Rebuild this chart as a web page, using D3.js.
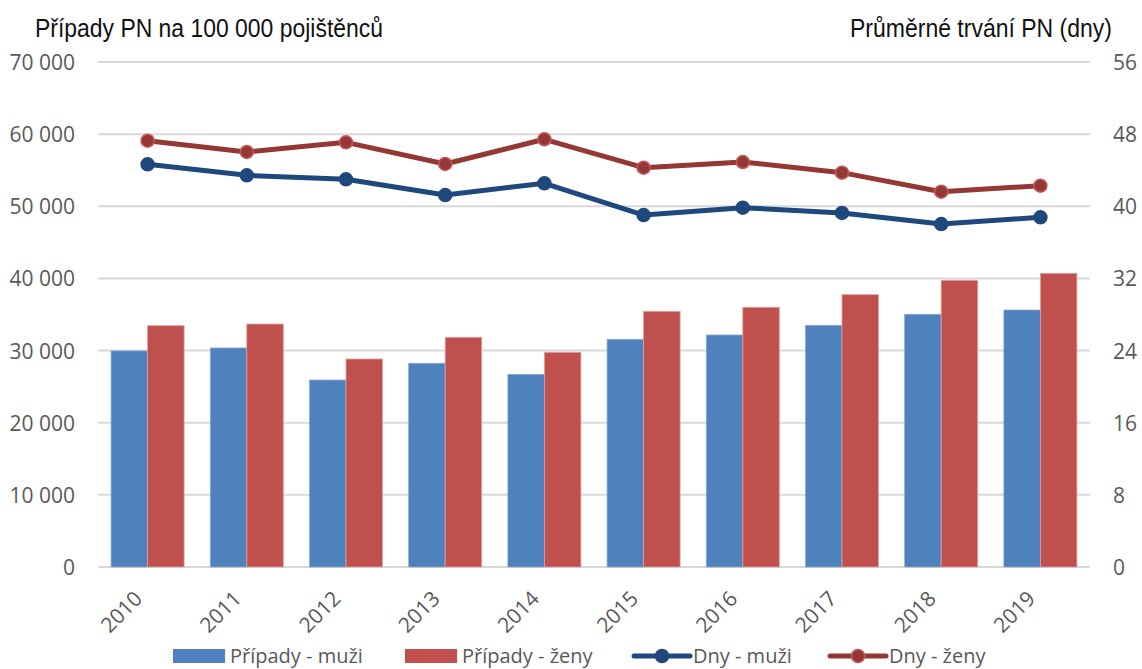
<!DOCTYPE html>
<html>
<head>
<meta charset="utf-8">
<script src="https://cdn.jsdelivr.net/npm/d3@7"></script>
<style>
    body { margin: 0; background: #fff; }
    svg { display: block; }
    .tick-label { font-family: "Open Sans", sans-serif; font-size: 21px; fill: #595959; }
    .axis-title { font-family: "Liberation Sans", Arial, sans-serif; font-size: 25px; fill: #111; }
    .legend-text { font-family: "Open Sans", sans-serif; font-size: 20px; fill: #595959; }
</style>
</head>
<body>
<svg id="chart"></svg>
<script>
const years = ['2010', '2011', '2012', '2013', '2014', '2015', '2016', '2017', '2018', '2019'];
const pripadyMuzi = [29950, 30360, 25920, 28240, 26710, 31560, 32160, 33500, 35030, 35620];
const pripadyZeny = [33450, 33680, 28830, 31840, 29760, 35440, 36000, 37750, 39740, 40710];
const dnyMuzi = [44.65, 43.43, 42.99, 41.25, 42.55, 39.03, 39.85, 39.26, 38.03, 38.78];
const dnyZeny = [47.27, 46.02, 47.09, 44.69, 47.43, 44.28, 44.91, 43.73, 41.62, 42.28];
const leftTicks = [0, 10000, 20000, 30000, 40000, 50000, 60000, 70000];
const rightTicks = [0, 8, 16, 24, 32, 40, 48, 56];
const seriesNames = ['Případy - muži', 'Případy - ženy', 'Dny - muži', 'Dny - ženy'];

const colors = {
    barM: '#4f81bd', barZ: '#c0504d',
    lineM: '#1f497d', lineZ: '#953735', markZ: '#c45a57'
};

const svg = d3.select('#chart')
    .attr('width', 1142)
    .attr('height', 669);

const margins = {top: 62, right: 52, bottom: 102, left: 98};
const width = 1142 - margins.left - margins.right;
const height = 669 - margins.top - margins.bottom;

const x = d3.scaleBand().domain(years).range([0, width])
    .paddingInner(0.264).paddingOuter(0.132);
const xOuter = d3.scaleBand().domain(years).range([0, width]);
const yLeft = d3.scaleLinear().domain([0, 70000]).range([height, 0]);
const yRight = d3.scaleLinear().domain([0, 56]).range([height, 0]);

const fmt = d3.formatLocale({decimal: ',', thousands: ' ', grouping: [3], currency: ['', '']}).format(',d');

const g = svg.append('g')
    .attr('transform', `translate(${margins.left}, ${margins.top})`);

// gridlines
g.append('g').selectAll('line').data(leftTicks).join('line')
    .attr('x1', 0).attr('x2', width)
    .attr('y1', d => yLeft(d)).attr('y2', d => yLeft(d))
    .attr('stroke', '#d9d9d9').attr('stroke-width', 2);

// left axis labels
g.append('g').selectAll('text').data(leftTicks).join('text')
    .attr('class', 'tick-label')
    .attr('x', -23).attr('y', d => yLeft(d))
    .attr('text-anchor', 'end').attr('dominant-baseline', 'central')
    .text(d => fmt(d));

// right axis labels
g.append('g').selectAll('text').data(rightTicks).join('text')
    .attr('class', 'tick-label')
    .attr('x', width + 23).attr('y', d => yRight(d))
    .attr('text-anchor', 'start').attr('dominant-baseline', 'central')
    .text(d => d);

// bars
const barW = x.bandwidth() / 2;
const barData = years.map((y, i) => ({year: y, m: pripadyMuzi[i], z: pripadyZeny[i]}));
const groups = g.append('g').selectAll('g').data(barData).join('g')
    .attr('transform', d => `translate(${x(d.year)}, 0)`);
groups.append('rect')
    .attr('x', 0).attr('width', barW)
    .attr('y', d => yLeft(d.m)).attr('height', d => height - yLeft(d.m))
    .attr('fill', colors.barM).attr('stroke', '#8aa9d3').attr('stroke-width', 0.8);
groups.append('rect')
    .attr('x', barW).attr('width', barW)
    .attr('y', d => yLeft(d.z)).attr('height', d => height - yLeft(d.z))
    .attr('fill', colors.barZ).attr('stroke', '#e0a09e').attr('stroke-width', 0.8);

// x labels
g.append('g').selectAll('text').data(years).join('text')
    .attr('class', 'tick-label')
    .attr('text-anchor', 'end')
    .attr('transform', d => `translate(${xOuter(d) + xOuter.bandwidth() / 2 - 4}, ${height + 33}) rotate(-45)`)
    .text(d => d);

// lines
const cx = d => xOuter(d) + xOuter.bandwidth() / 2;
const line = d3.line().x(d => cx(d.year)).y(d => yRight(d.v));
const lineSeries = [
    {key: 'm', values: years.map((y, i) => ({year: y, v: dnyMuzi[i]})), stroke: colors.lineM, mark: colors.lineM},
    {key: 'z', values: years.map((y, i) => ({year: y, v: dnyZeny[i]})), stroke: colors.lineZ, mark: colors.markZ}
];
lineSeries.forEach(s => {
    g.append('path').datum(s.values)
        .attr('d', line)
        .attr('fill', 'none')
        .attr('stroke', s.stroke)
        .attr('stroke-width', 5)
        .attr('stroke-linejoin', 'round');
    g.append('g').selectAll('circle').data(s.values).join('circle')
        .attr('cx', d => cx(d.year)).attr('cy', d => yRight(d.v))
        .attr('r', 6.5)
        .attr('fill', s.stroke)
        .attr('stroke', s.mark).attr('stroke-width', 1.5);
});

// axis titles (condensed like the original)
svg.append('text').attr('class', 'axis-title')
    .attr('x', 35).attr('y', 37)
    .attr('textLength', 348).attr('lengthAdjust', 'spacingAndGlyphs')
    .text('Případy PN na 100 000 pojištěnců');
svg.append('text').attr('class', 'axis-title')
    .attr('x', 850).attr('y', 37)
    .attr('textLength', 262).attr('lengthAdjust', 'spacingAndGlyphs')
    .text('Průměrné trvání PN (dny)');

// legend
const legend = svg.append('g').attr('transform', 'translate(0, 655)');
const legendItems = [
    {name: seriesNames[0], type: 'bar', color: colors.barM, x: 173},
    {name: seriesNames[1], type: 'bar', color: colors.barZ, x: 405},
    {name: seriesNames[2], type: 'line', color: colors.lineM, mark: colors.lineM, x: 634},
    {name: seriesNames[3], type: 'line', color: colors.lineZ, mark: colors.markZ, x: 830}
];
legendItems.forEach(it => {
    if (it.type === 'bar') {
        legend.append('rect').attr('x', it.x).attr('y', -6).attr('width', 52).attr('height', 14)
            .attr('fill', it.color);
    } else {
        legend.append('line').attr('x1', it.x).attr('x2', it.x + 56).attr('y1', 1).attr('y2', 1)
            .attr('stroke', it.color).attr('stroke-width', 5).attr('stroke-linecap', 'round');
        legend.append('circle').attr('cx', it.x + 28).attr('cy', 1).attr('r', 6.5)
            .attr('fill', it.color).attr('stroke', it.mark).attr('stroke-width', 1.5);
    }
    legend.append('text').attr('class', 'legend-text')
        .attr('x', it.x + (it.type === 'bar' ? 57 : 59)).attr('y', 0)
        .attr('dominant-baseline', 'central')
        .text(it.name);
});
</script>
</body>
</html>
